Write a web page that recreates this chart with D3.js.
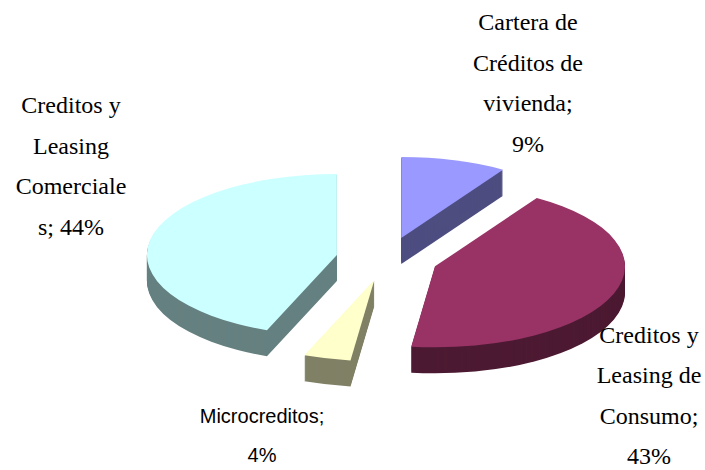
<!DOCTYPE html>
<html>
  <head>
    <meta charset="utf-8">
    <script src="https://cdn.jsdelivr.net/npm/d3@7"></script>
    <style>
      body { margin: 0; background: #fff; }
    </style>
  </head>
  <body>
    <svg width="705" height="470"></svg>
    <script>
      // data, clockwise from 12 o'clock
      var categories = ["Cartera de Créditos de vivienda", "Creditos y Leasing de Consumo", "Microcreditos", "Creditos y Leasing Comerciales"];
      var values = [9, 43, 4, 44];
      var pctLabels = ["9%", "43%", "4%", "44%"];
      // wrapped label lines, as Excel broke them
      var labelLines = [
        ["Cartera de", "Créditos de", "vivienda;", "9%"],
        ["Creditos y", "Leasing de", "Consumo;", "43%"],
        ["Microcreditos;", "4%"],
        ["Creditos y", "Leasing", "Comerciale", "s; 44%"]
      ];
      var topColors = ["#9999ff", "#993366", "#ffffcc", "#ccffff"];
      var sideColors = ["#4d4d80", "#4d1a33", "#808066", "#668080"];

      // layout
      var cx = 387, cy = 259;
      var rx = 190, ry = 81;
      var depth = 26;
      var explode = 51;
      var k = ry / rx;
      var serif = "'Liberation Serif', 'Times New Roman', Times, serif";
      var sans = "'Liberation Sans', Arial, sans-serif";
      var labelPos = [
        {x: 528, y: 30, dy: 40.5, font: serif, size: 24},
        {x: 649, y: 343, dy: 40.3, font: serif, size: 24},
        {x: 262, y: 423, dy: 39, font: sans, size: 20},
        {x: 71, y: 113, dy: 40.5, font: serif, size: 24}
      ];

      var svg = d3.select("svg");

      var pie = d3.pie().sort(null).value(function(d) { return d; });
      var arcs = pie(values);
      var arc = d3.arc().innerRadius(0).outerRadius(rx);

      // draw back slices first
      var order = [0, 3, 1, 2];

      order.forEach(function(i) {
        var a = arcs[i];
        var mid = (a.startAngle + a.endAngle) / 2;
        var ox = explode * Math.sin(mid);
        var oy = -explode * Math.cos(mid) * k;
        var g = svg.append("g")
          .attr("transform", "translate(" + (cx + ox) + "," + (cy + oy) + ")");

        // the side: sweep the face downwards
        var steps = d3.range(depth, 0, -1);
        g.selectAll("path.side")
          .data(steps)
          .enter()
          .append("path")
          .attr("class", "side")
          .attr("d", arc(a))
          .attr("transform", function(s) { return "translate(0," + s + ") scale(1," + k + ")"; })
          .attr("fill", sideColors[i]);

        // top face
        g.append("path")
          .attr("d", arc(a))
          .attr("transform", "scale(1," + k + ")")
          .attr("fill", topColors[i]);
      });

      // labels
      labelLines.forEach(function(lines, i) {
        var p = labelPos[i];
        var t = svg.append("text")
          .attr("font-family", p.font)
          .attr("font-size", p.size)
          .attr("fill", "#000")
          .attr("text-anchor", "middle");
        t.selectAll("tspan")
          .data(lines)
          .enter()
          .append("tspan")
          .attr("x", p.x)
          .attr("y", function(d, j) { return p.y + j * p.dy; })
          .text(function(d) { return d; });
      });
    </script>
  </body>
</html>
